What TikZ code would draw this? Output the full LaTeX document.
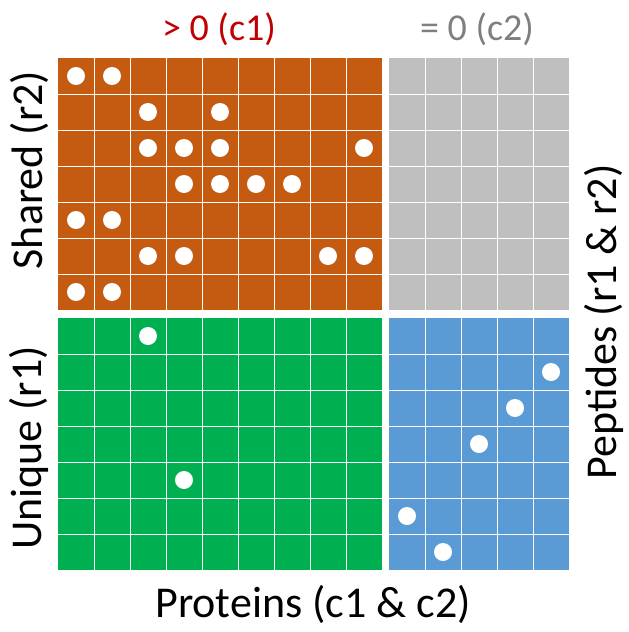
\documentclass[tikz,border=0pt]{standalone}
\usepackage{fontspec}
\setmainfont{Carlito}
\definecolor{corange}{HTML}{C55A11}
\definecolor{cgray}{HTML}{BFBFBF}
\definecolor{cgreen}{HTML}{00B050}
\definecolor{cblue}{HTML}{5B9BD5}
\definecolor{cred}{HTML}{C00000}
\definecolor{ctext}{HTML}{7F7F7F}
\newcommand\cellblock[5]{%
  \fill[#5] (#1,#2) rectangle ++(#3*36,#4*36);
  \foreach \i in {1,...,\numexpr#3-1\relax} \draw[gridline] (#1+\i*36,#2) -- ++(0,#4*36);
  \foreach \j in {1,...,\numexpr#4-1\relax} \draw[gridline] (#1,#2+\j*36) -- ++(#3*36,0);
}
\tikzset{
  gridline/.style={white, line width=1pt},
  dot/.style={circle, fill=white, inner sep=0pt, minimum size=18pt},
  biglabel/.style={font=\fontsize{44}{44}\selectfont, inner sep=0pt},
  toplabel/.style={font=\fontsize{38}{38}\selectfont, inner sep=0pt},
}
\begin{document}
\begin{tikzpicture}[x=1pt,y=-1pt]
\useasboundingbox (0,0) rectangle (629,632);
\cellblock{58}{58}{9}{7}{corange}
\cellblock{389}{58}{5}{7}{cgray}
\cellblock{58}{318}{9}{7}{cgreen}
\cellblock{389}{318}{5}{7}{cblue}
% orange dots
\foreach \c/\r [count=\k] in {0/0,1/0,2/1,4/1,2/2,3/2,4/2,8/2,3/3,4/3,5/3,6/3,0/4,1/4,2/5,3/5,7/5,8/5,0/6,1/6}
  \node[dot] (o\k) at (58+18+\c*36, 58+18+\r*36) {};
% green dots
\foreach \c/\r [count=\k] in {2/0,3/4}
  \node[dot] (g\k) at (58+18+\c*36, 318+18+\r*36) {};
% blue dots
\foreach \c/\r [count=\k] in {4/1,3/2,2/3,0/5,1/6}
  \node[dot] (b\k) at (389+18+\c*36, 318+18+\r*36) {};
% labels
\node[toplabel, text=cred] (c1) at (219,29) {> 0 (c1)};
\node[toplabel, text=ctext] (c2) at (477,29) {= 0 (c2)};
\node[biglabel, rotate=90] (r2) at (29,170) {Shared (r2)};
\node[biglabel, rotate=90] (r1) at (29,448) {Unique (r1)};
\node[biglabel, rotate=90] (pep) at (604,322) {Peptides (r1 \& r2)};
\node[biglabel] (prot) at (313,604) {Proteins (c1 \& c2)};
\end{tikzpicture}
\end{document}
